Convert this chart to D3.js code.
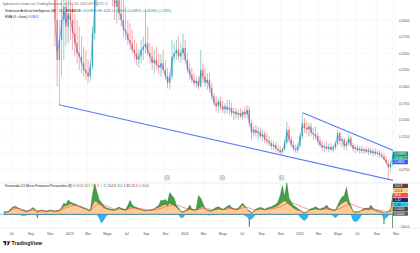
<!DOCTYPE html>
<html><head><meta charset="utf-8">
<script src="https://cdn.jsdelivr.net/npm/d3@7"></script>
<style>
body{margin:0;background:#fff}
svg{display:block;font-family:"Liberation Sans",Arial,sans-serif}
</style>
</head><body>
<svg id="c" width="420" height="253"></svg>
<script>
// ---------- DATA ----------
const priceStart = "2022-11-14"; // weekly candles
const opens = [0.38,0.30,0.24,0.27,0.30,0.32,0.29,0.31,0.30,0.28,0.265,0.25,0.245,0.235,0.225,0.22,0.215,0.23,0.28,0.33,
0.37,0.40,0.39,0.41,0.40,0.38,0.36,0.34,0.32,0.33,0.31,0.30,0.285,0.28,0.27,0.265,0.255,0.25,0.24,0.245,
0.255,0.26,0.265,0.25,0.245,0.235,0.24,0.232,0.228,0.235,0.225,0.215,0.205,0.215,0.245,0.25,0.255,0.245,0.25,0.258,
0.24,0.225,0.218,0.21,0.205,0.208,0.20,0.225,0.215,0.205,0.21,0.198,0.185,0.175,0.17,0.178,0.17,0.165,0.17,0.165,
0.168,0.16,0.162,0.158,0.16,0.155,0.162,0.158,0.165,0.145,0.13,0.135,0.13,0.132,0.125,0.128,0.12,0.118,0.115,0.11,
0.112,0.106,0.104,0.101,0.105,0.115,0.135,0.12,0.112,0.106,0.104,0.11,0.125,0.145,0.138,0.135,0.14,0.13,0.128,0.125,
0.118,0.112,0.108,0.11,0.106,0.109,0.105,0.108,0.114,0.13,0.118,0.12,0.11,0.114,0.122,0.112,0.106,0.108,0.104,0.106,
0.103,0.105,0.102,0.104,0.10,0.102,0.099,0.10,0.097,0.095,0.09,0.085,0.078,0.082];
const highs = [0.42,0.36,0.30,0.34,0.345,0.36,0.35,0.34,0.325,0.31,0.30,0.29,0.275,0.26,0.255,0.24,0.235,0.29,0.34,0.38,
0.42,0.44,0.43,0.45,0.43,0.41,0.38,0.37,0.36,0.37,0.345,0.335,0.32,0.30,0.295,0.285,0.27,0.265,0.255,0.27,
0.275,0.315,0.29,0.265,0.26,0.255,0.26,0.25,0.248,0.255,0.24,0.228,0.22,0.27,0.265,0.27,0.275,0.265,0.28,0.27,
0.25,0.235,0.228,0.22,0.215,0.215,0.255,0.235,0.228,0.22,0.22,0.205,0.19,0.185,0.182,0.185,0.178,0.175,0.18,0.18,
0.175,0.168,0.168,0.165,0.168,0.165,0.17,0.172,0.17,0.15,0.14,0.142,0.14,0.138,0.135,0.133,0.13,0.125,0.12,0.118,
0.116,0.112,0.11,0.108,0.12,0.147,0.14,0.125,0.118,0.112,0.115,0.13,0.1605,0.152,0.148,0.145,0.145,0.138,0.14,0.13,
0.125,0.118,0.115,0.118,0.114,0.115,0.112,0.118,0.135,0.132,0.125,0.122,0.118,0.1275,0.125,0.116,0.112,0.112,0.11,0.112,
0.108,0.11,0.108,0.108,0.106,0.107,0.105,0.104,0.102,0.10,0.095,0.09,0.088,0.102];
const lows = [0.26,0.20,0.1725,0.215,0.24,0.26,0.265,0.27,0.255,0.245,0.235,0.225,0.22,0.215,0.21,0.205,0.208,0.225,0.27,0.32,
0.35,0.37,0.36,0.38,0.36,0.34,0.32,0.30,0.295,0.30,0.29,0.275,0.27,0.262,0.255,0.25,0.24,0.232,0.228,0.235,
0.24,0.25,0.245,0.235,0.225,0.22,0.225,0.218,0.215,0.22,0.21,0.197,0.195,0.21,0.235,0.24,0.238,0.235,0.24,0.235,
0.22,0.21,0.205,0.20,0.198,0.195,0.198,0.205,0.20,0.195,0.19,0.18,0.17,0.162,0.16,0.165,0.16,0.158,0.16,0.158,
0.155,0.15,0.152,0.15,0.152,0.15,0.152,0.152,0.14,0.12,0.125,0.125,0.12,0.122,0.118,0.115,0.112,0.11,0.105,0.104,
0.102,0.10,0.0975,0.098,0.102,0.112,0.115,0.108,0.103,0.10,0.10,0.108,0.12,0.13,0.128,0.125,0.125,0.12,0.12,0.112,
0.108,0.102,0.101,0.104,0.101,0.103,0.101,0.104,0.11,0.112,0.108,0.105,0.104,0.11,0.108,0.102,0.10,0.102,0.099,0.10,
0.098,0.099,0.097,0.097,0.095,0.096,0.094,0.093,0.092,0.088,0.082,0.06,0.07,0.08];
const closes = [0.30,0.24,0.27,0.30,0.32,0.29,0.31,0.30,0.28,0.265,0.25,0.245,0.235,0.225,0.22,0.215,0.23,0.28,0.33,0.37,
0.40,0.39,0.41,0.40,0.38,0.36,0.34,0.32,0.33,0.31,0.30,0.285,0.28,0.27,0.265,0.255,0.25,0.24,0.245,0.255,
0.26,0.265,0.25,0.245,0.235,0.24,0.232,0.228,0.235,0.225,0.215,0.205,0.215,0.245,0.25,0.255,0.245,0.25,0.258,0.24,
0.225,0.218,0.21,0.205,0.208,0.20,0.225,0.215,0.205,0.21,0.198,0.185,0.175,0.17,0.178,0.17,0.165,0.17,0.165,0.168,
0.16,0.162,0.158,0.16,0.155,0.162,0.158,0.165,0.145,0.13,0.135,0.13,0.132,0.125,0.128,0.12,0.118,0.115,0.11,0.112,
0.106,0.104,0.101,0.105,0.115,0.135,0.12,0.112,0.106,0.104,0.11,0.125,0.145,0.138,0.135,0.14,0.13,0.128,0.125,0.118,
0.112,0.108,0.11,0.106,0.109,0.105,0.108,0.114,0.13,0.118,0.12,0.11,0.114,0.122,0.112,0.106,0.108,0.104,0.106,0.103,
0.105,0.102,0.104,0.10,0.102,0.099,0.10,0.097,0.095,0.09,0.085,0.078,0.082,0.0987];
const emaPeriod = 9;
const emaLast = 0.0863;
const lastPrice = 0.0987;
const countdown = "03:06:17";

const lowerTrend = [["2022-11-30",0.1725],["2025-11-09",0.057]];
const upperTrend = [["2025-01-11",0.1605],["2025-11-09",0.1005]];
const eventDates = ["2023-11-08","2024-05-01","2024-11-05"];

const indStart = "2022-06-06"; // weekly indicator values
const indOrange = [15,15,20,35,50,55,50,40,30,25,20,25,35,45,35,15,25,30,25,20,25,30,25,20,25,30,45,60,70,75,
85,80,75,70,60,55,45,40,30,25,70,110,100,85,70,55,45,40,35,30,30,40,50,40,35,30,45,60,55,50,
45,40,35,30,25,30,30,35,40,50,55,65,75,80,70,90,80,70,55,40,20,15,25,30,40,35,30,35,45,55,
60,40,30,25,25,35,40,45,40,35,40,50,55,45,40,35,40,55,75,60,40,20,10,20,35,40,45,40,35,40,
45,50,55,60,70,85,100,110,95,80,65,50,40,30,30,15,10,15,30,35,40,45,40,35,40,45,50,40,35,30,
30,55,75,90,100,110,80,55,20,15,15,20,30,35,40,35,45,40,30,25,20,15,10,10,20,30,114.8];
const indGreen = [20,18,25,45,60,65,55,45,35,30,25,30,40,55,40,20,30,35,30,25,30,35,30,25,30,35,55,90,80,115,
100,90,85,75,65,60,50,45,35,30,160,246,180,120,95,70,55,48,42,38,38,48,58,48,42,38,70,113,75,60,
55,45,40,35,30,35,35,40,45,60,70,113,110,120,100,175,150,130,70,50,25,20,30,40,75,45,35,45,152,130,
90,45,35,30,30,45,55,60,50,40,50,65,75,55,45,40,50,70,90,70,40,30,15,25,40,50,55,50,40,50,
55,60,70,80,100,150,230,140,257,130,100,70,60,45,35,20,15,20,35,45,50,60,50,40,50,55,75,50,40,35,
35,70,110,140,150,217,120,70,25,20,20,25,35,45,50,45,75,50,35,30,25,20,10,12,25,40,165];
const indRed = [20,20,22,30,40,45,48,45,40,35,30,28,30,35,35,30,28,28,27,26,26,27,27,26,26,27,35,45,55,60,
65,70,72,70,66,60,55,48,42,36,45,60,80,85,82,78,70,62,55,48,42,40,42,42,40,38,40,45,50,52,
50,48,45,42,38,35,33,33,35,38,42,48,55,62,66,70,74,76,74,70,64,56,50,45,42,40,38,36,40,45,
50,50,46,42,38,36,38,40,41,40,40,42,45,46,45,43,42,45,52,56,55,50,44,38,36,37,39,40,39,40,
42,44,47,50,55,60,70,80,88,92,92,88,82,75,68,60,52,45,40,38,38,40,41,40,40,41,43,44,42,40,
38,40,48,56,64,75,82,84,78,70,62,55,50,46,44,42,43,42,40,37,34,30,26,23,22,24,28.6];
const indCyan = [-5,-5,0,0,0,0,0,0,-10,-10,-8,0,0,0,0,-15,0,0,0,-5,0,0,0,-5,0,0,0,0,0,0,
0,0,0,0,0,0,0,0,0,0,0,0,0,-30,-70,-50,-20,0,0,0,0,0,0,0,0,0,0,0,0,0,
0,0,0,0,0,0,0,0,0,0,0,0,0,0,0,0,0,0,0,0,-30,-25,0,0,0,0,0,0,0,0,
0,0,0,-10,0,0,0,0,0,0,0,0,0,0,0,0,0,0,0,-10,-20,-40,-40,-20,0,0,0,0,0,0,
0,0,0,0,0,0,0,0,0,0,0,0,0,0,-20,-40,-50,-35,0,0,0,0,0,0,0,0,0,0,0,-15,
-30,-10,0,0,0,0,0,0,-50,-60,-55,-30,0,0,0,0,0,0,0,0,0,0,-40,-30,-10,0,0];
const indGreenDips = [[15,-30],[111,-100],[172,-80],[176,-125]]; // [week index, value]
const indLabels = [["114.8","#5d4037","#fff"],["114.8","#ffcc80","#5d4037"],["28.6","#ef5350","#fff"],
  ["1.32","#1a237e","#fff"],["1.32","#26c6da","#0d1b2a"],["0.0000","#434651","#fff"],["0.0000","#5d606b","#fff"]];

const timeTicks = ["2022-07-01","2022-09-01","2022-11-01","2023-01-01","2023-03-01","2023-05-01","2023-07-01","2023-09-01","2023-11-01",
"2024-01-01","2024-03-01","2024-05-01","2024-07-01","2024-09-01","2024-11-01","2025-01-01","2025-03-01","2025-05-01","2025-07-01","2025-09-01","2025-11-01"];
const timeLabels = ["Jul","Sep","Nov","2023","Mar","Mayo","Jul","Sep","Nov","2024","Mar","Mayo","Jul","Sep","Nov","2025","Mar","Mayo","Jul","Sep","Nov"];
const priceTicks = [0.075,0.100,0.125,0.150,0.175,0.200,0.225,0.250,0.275,0.300];

// ---------- CHART ----------
const svg = d3.select("#c");
const DAY = 864e5;
const P = {right:393, mainTop:0, mainBot:183, indTop:183, indBot:228};
const parse = s => new Date(s+"T00:00:00Z");
const x = d3.scaleUtc().domain([parse("2023-01-01"), parse("2025-01-01")]).range([69, 299.6]);
const y = d3.scaleLinear().domain([0.300, 0.075]).range([20, 169.5]);
const yi = d3.scaleLinear().domain([0, -100]).range([214.3, 226.7]);

svg.append("rect").attr("width",420).attr("height",253).attr("fill","#fff");
const defs = svg.append("defs");
defs.append("clipPath").attr("id","cm").append("rect").attr("x",0).attr("y",P.mainTop).attr("width",P.right).attr("height",P.mainBot-P.mainTop);
defs.append("clipPath").attr("id","ci").append("rect").attr("x",0).attr("y",P.indTop).attr("width",P.right).attr("height",P.indBot-P.indTop);

// grid
const tt = timeTicks.map(parse);
svg.append("g").selectAll("line").data(tt).join("line")
  .attr("x1",d=>x(d)).attr("x2",d=>x(d)).attr("y1",0).attr("y2",P.indBot)
  .attr("stroke","#f0f3fa").attr("stroke-width",0.6);
svg.append("g").selectAll("line").data(priceTicks).join("line")
  .attr("x1",0).attr("x2",P.right).attr("y1",d=>y(d)).attr("y2",d=>y(d))
  .attr("stroke","#f0f3fa").attr("stroke-width",0.6);

// separators
svg.append("line").attr("x1",0).attr("x2",420).attr("y1",P.indTop).attr("y2",P.indTop).attr("stroke","#e0e3eb").attr("stroke-width",0.6);
svg.append("line").attr("x1",0).attr("x2",420).attr("y1",P.indBot).attr("y2",P.indBot).attr("stroke","#e0e3eb").attr("stroke-width",0.6);
svg.append("line").attr("x1",P.right).attr("x2",P.right).attr("y1",0).attr("y2",P.indBot).attr("stroke","#eef0f4").attr("stroke-width",0.6);

// candles
const pStart = parse(priceStart).getTime();
const candles = closes.map((c,i)=>({t:new Date(pStart+(7*i+3.5)*DAY),o:opens[i],h:highs[i],l:lows[i],c}));
const gm = svg.append("g").attr("clip-path","url(#cm)");
const col = d => d.c>=d.o ? "#26a69a" : "#ef5350";
gm.selectAll("line.w").data(candles).join("line").attr("class","w")
  .attr("x1",d=>x(d.t)).attr("x2",d=>x(d.t)).attr("y1",d=>y(d.h)).attr("y2",d=>y(d.l))
  .attr("stroke",col).attr("stroke-width",0.7).attr("opacity",0.7);
gm.selectAll("rect.b").data(candles).join("rect").attr("class","b")
  .attr("x",d=>x(d.t)-0.7).attr("width",1.4)
  .attr("y",d=>y(Math.max(d.o,d.c))).attr("height",d=>Math.max(0.6,Math.abs(y(d.o)-y(d.c))))
  .attr("fill",col).attr("opacity",0.75);

// EMA line (derived from closes)
const alpha = 1 - Math.pow(1 - 2/(emaPeriod+1), 7);
let e = closes[0];
const ema = closes.map((c,i)=>{ e = i===0 ? c : alpha*c + (1-alpha)*e; return {t:candles[i].t, v:e}; });
gm.append("path").datum(ema).attr("fill","none").attr("stroke","#2962ff").attr("stroke-width",0.6).attr("opacity",0.8)
  .attr("d",d3.line().x(d=>x(d.t)).y(d=>y(d.v)));

// trend lines
[lowerTrend, upperTrend].forEach(tl=>{
  gm.append("line").attr("x1",x(parse(tl[0][0]))).attr("y1",y(tl[0][1]))
    .attr("x2",x(parse(tl[1][0]))).attr("y2",y(tl[1][1]))
    .attr("stroke","#5b7cfa").attr("stroke-width",1.1);
});

// event markers
eventDates.forEach(dt=>{
  const cx = x(parse(dt));
  const g = svg.append("g");
  g.append("rect").attr("x",cx-2.3).attr("y",175.5).attr("width",4.6).attr("height",4.6).attr("rx",0.8)
    .attr("fill","#fff").attr("stroke","#9598a1").attr("stroke-width",0.5);
  g.append("rect").attr("x",cx-1.1).attr("y",176.8).attr("width",2.2).attr("height",2).attr("fill","none")
    .attr("stroke","#787b86").attr("stroke-width",0.4);
});

// indicator
const iStart = parse(indStart).getTime();
const it = j => x(new Date(iStart+(7*j+3.5)*DAY));
const gi = svg.append("g").attr("clip-path","url(#ci)");
const idx = indGreen.map((_,j)=>j);
gi.append("path").datum(idx).attr("fill","#43a047").attr("stroke","#1b5e20").attr("stroke-width",0.35)
  .attr("d",d3.area().x(it).y0(yi(0)).y1(j=>yi(indGreen[j])));
gi.selectAll("line.dip").data(indGreenDips).join("line").attr("class","dip")
  .attr("x1",d=>it(d[0])).attr("x2",d=>it(d[0])).attr("y1",yi(0)).attr("y2",d=>yi(d[1]))
  .attr("stroke","#2e7d32").attr("stroke-width",1);
gi.append("path").datum(idx).attr("fill","#29b6f6").attr("stroke","#0288d1").attr("stroke-width",0.3)
  .attr("d",d3.area().x(it).y0(yi(0)).y1(j=>yi(indCyan[j])));
gi.append("path").datum(idx).attr("fill","#ffcc99").attr("stroke","#8d5a2b").attr("stroke-width",0.35)
  .attr("d",d3.area().x(it).y0(yi(0)).y1(j=>yi(indOrange[j])));
gi.append("path").datum(idx).attr("fill","none").attr("stroke","#e53935").attr("stroke-width",0.5)
  .attr("d",d3.line().x(it).y(j=>yi(indRed[j])));
gi.append("line").attr("x1",0).attr("x2",P.right).attr("y1",yi(0)).attr("y2",yi(0))
  .attr("stroke","#1e88e5").attr("stroke-width",0.5);

// axes
const fs = 3.4;
const xa = svg.append("g").attr("transform",`translate(0,${P.indBot})`)
  .call(d3.axisBottom(x).tickValues(tt).tickFormat((d,i)=>timeLabels[i]).tickSize(0).tickPadding(5));
xa.select(".domain").remove();
xa.selectAll("text").attr("font-size",fs).attr("fill","#4a4d57").attr("font-family","Liberation Sans, Arial, sans-serif");

const ya = svg.append("g").attr("transform",`translate(${P.right+6},0)`)
  .call(d3.axisRight(y).tickValues(priceTicks).tickFormat(d3.format(".4f")).tickSize(0).tickPadding(0));
ya.select(".domain").remove();
ya.selectAll("text").attr("font-size",fs).attr("fill","#4a4d57").attr("font-family","Liberation Sans, Arial, sans-serif");
// tick labels hidden under the last-price tag (as in TradingView)
ya.selectAll(".tick").filter(d=>Math.abs(y(d)-y(lastPrice))<6).select("text").remove();

const yia = svg.append("g").attr("transform",`translate(${P.right+6},0)`)
  .call(d3.axisRight(yi).tickValues([-100]).tickFormat(d3.format(".1f")).tickSize(0).tickPadding(0));
yia.select(".domain").remove();
yia.selectAll("text").attr("font-size",fs).attr("fill","#4a4d57").attr("font-family","Liberation Sans, Arial, sans-serif");

// price scale labels
function tag(yc, h, bg, fg, lines){
  svg.append("rect").attr("x",P.right).attr("y",yc-h/2).attr("width",15).attr("height",h).attr("rx",0.6).attr("fill",bg);
  lines.forEach((t,k)=>svg.append("text").attr("x",P.right+1.5).attr("y",yc-h/2+3.4+k*3.6)
    .attr("font-size",fs-0.2).attr("fill",fg).text(t));
}
tag(y(lastPrice)+1.8, 8, "#089981", "#fff", [d3.format(".5f")(lastPrice), countdown]);
tag(y(emaLast), 4.4, "#2962ff", "#fff", [d3.format(".4f")(emaLast)]);
indLabels.forEach((l,k)=>tag(186+k*4.6, 4.3, l[1], l[2], [l[0]]));

// header texts
const hdr = svg.append("g").attr("font-size",fs);
hdr.append("text").attr("x",3).attr("y",5.2).attr("fill","#6a6d78")
  .text("lgdesarrol creado con TradingView.com, at Oct 24, 2025 09:53 UTC-2");
const t2 = hdr.append("text").attr("x",5).attr("y",11.6).attr("fill","#131722");
t2.append("tspan").text("Substrate Artificial Intelligence (B) · 1D · BINANCE ");
t2.append("tspan").attr("fill","#089981").text(" O0.09650 H0.1020 L0.09610 C0.09870 +0.00180 (+1.86%)");
const t3 = hdr.append("text").attr("x",5).attr("y",17.6).attr("fill","#131722");
t3.append("tspan").text("EMA (9, close) ");
t3.append("tspan").attr("fill","#2962ff").text(" 0.0863");

const t4 = svg.append("text").attr("x",5).attr("y",187.4).attr("font-size",fs).attr("fill","#131722");
t4.append("tspan").text("Kerzonde 2.0 Micro Finanzas Personales (8) ");
[["0.0000","#787b86"],["301","#43a047"],["114.8","#f57c00"],["1.32","#26c6da"],["114.8","#5d4037"],
 ["300","#43a047"],["1.32","#1a237e"],["28.6","#e53935"],["0.0000","#787b86"]]
 .forEach(p=>t4.append("tspan").attr("fill",p[1]).text(" "+p[0]));

// logo
const lg = svg.append("g");
lg.append("rect").attr("x",3).attr("y",241.2).attr("width",3.2).attr("height",1.3).attr("fill","#131722");
lg.append("rect").attr("x",4.6).attr("y",241.2).attr("width",1.4).attr("height",4).attr("fill","#131722");
lg.append("circle").attr("cx",7.2).attr("cy",242).attr("r",0.7).attr("fill","#131722");
lg.append("path").attr("d","M8.6,241.2 L10.2,241.2 L8.4,245.2 L6.9,245.2 Z").attr("fill","#131722");
lg.append("text").attr("x",11.6).attr("y",245.2).attr("font-size",5.2).attr("font-weight","bold")
  .attr("fill","#131722").text("TradingView");
</script>
</body></html>
